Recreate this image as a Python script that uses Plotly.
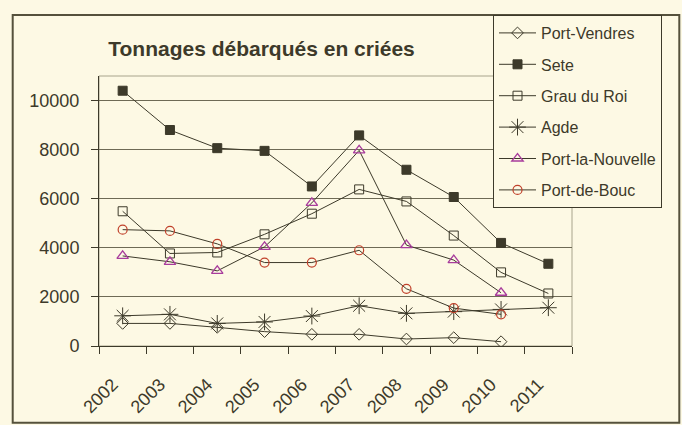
import plotly.graph_objects as go

years = ["2002", "2003", "2004", "2005", "2006", "2007", "2008", "2009", "2010", "2011"]
port_vendres = [920, 920, 760, 585, 475, 475, 285, 340, 175, None]
sete = [10400, 8800, 8060, 7950, 6500, 8580, 7180, 6070, 4200, 3350]
grau_du_roi = [5490, 3770, 3810, 4550, 5390, 6380, 5890, 4500, 3000, 2140]
agde = [1230, 1290, 920, 980, 1220, 1640, 1330, 1400, 1490, 1560]
port_la_nouvelle = [3670, 3430, 3060, 4040, 5830, 7970, 4110, 3500, 2170, None]
port_de_bouc = [4740, 4690, 4160, 3400, 3400, 3900, 2330, 1545, 1290, None]
y_ticks = [0, 2000, 4000, 6000, 8000, 10000]
y_tick_labels = ["0", "2000", "4000", "6000", "8000", "10000"]

BG = "#FDF9E4"
INK = "#3d3a2a"
FONT = "Liberation Sans, Arial, sans-serif"

series = [
    ("Port-Vendres", port_vendres, dict(symbol="diamond-open", size=9, color=INK, line=dict(width=1, color=INK))),
    ("Sete", sete, dict(symbol="square", size=9, color=INK, line=dict(width=1, color=INK))),
    ("Grau du Roi", grau_du_roi, dict(symbol="square-open", size=9, color=INK, line=dict(width=1, color=INK))),
    ("Agde", agde, dict(symbol="asterisk-open", size=14, color=INK, line=dict(width=1, color=INK))),
    ("Port-la-Nouvelle", port_la_nouvelle, dict(symbol="triangle-up-open", size=10, color="#A83C9C", line=dict(width=1.3, color="#A83C9C"))),
    ("Port-de-Bouc", port_de_bouc, dict(symbol="circle-open", size=9, color="#C0402A", line=dict(width=1.2, color="#C0402A"))),
]

fig = go.Figure()
for i, (name, vals, mk) in enumerate(series):
    fig.add_trace(go.Scatter(
        x=years, y=vals, name=name, mode="lines+markers",
        line=dict(color=INK, width=1), marker=mk,
        legendgroup=f"g{i}", connectgaps=False,
    ))

W, H = 682, 425
L, R, T, B = 99, 572, 76, 346
pw, ph = R - L, B - T

def px(x):
    return (x - L) / pw

def py(y):
    return (B - y) / ph

fig.update_layout(
    width=W, height=H,
    margin=dict(l=L, r=W - R, t=T, b=H - B, autoexpand=False),
    paper_bgcolor=BG, plot_bgcolor=BG,
    font=dict(family=FONT, color=INK),
    title=dict(text="<b>Tonnages débarqués en criées</b>",
               font=dict(family=FONT, size=21, color=INK),
               x=px(261.5), xref="paper", xanchor="center",
               y=1 - 49 / H, yref="container", yanchor="middle"),
    showlegend=True,
    legend=dict(
        x=px(493), y=py(15), xanchor="left", yanchor="top",
        bgcolor=BG, bordercolor=INK, borderwidth=1,
        font=dict(family=FONT, size=16, color=INK),
        tracegroupgap=7.6, itemwidth=37,
    ),
    xaxis=dict(
        type="category", tickson="boundaries", ticks="outside", ticklen=7,
        tickcolor=INK, showline=True, linecolor=INK, linewidth=1,
        showgrid=False, tickangle=-45, automargin=False,
        tickfont=dict(family=FONT, size=18, color=INK),
        ticklabelshift=-10, ticklabelstandoff=20,
        range=[-0.5, 9.5],
    ),
    yaxis=dict(
        range=[0, 11000], tickvals=y_ticks, ticktext=y_tick_labels,
        ticks="outside", ticklen=7, automargin=False, ticklabelstandoff=8,
        tickcolor=INK, showline=True, linecolor=INK, linewidth=1,
        showgrid=True, gridcolor="#6e6a55", gridwidth=1, zeroline=False,
        tickfont=dict(family=FONT, size=18, color=INK),
    ),
    shapes=[
        dict(type="rect", xref="paper", yref="paper",
             x0=px(12.7), x1=px(679.3), y0=py(422.7), y1=py(15),
             line=dict(color="#55513c", width=2), layer="below"),
        dict(type="rect", xref="paper", yref="paper",
             x0=0, x1=1, y0=0, y1=1,
             line=dict(color="#a8a48c", width=1), layer="below"),
    ],
)

fig.write_html(
    "out.html",
    config={"displayModeBar": False},
    post_script="document.body.style.margin='0';document.body.style.background='%s';" % BG,
)
